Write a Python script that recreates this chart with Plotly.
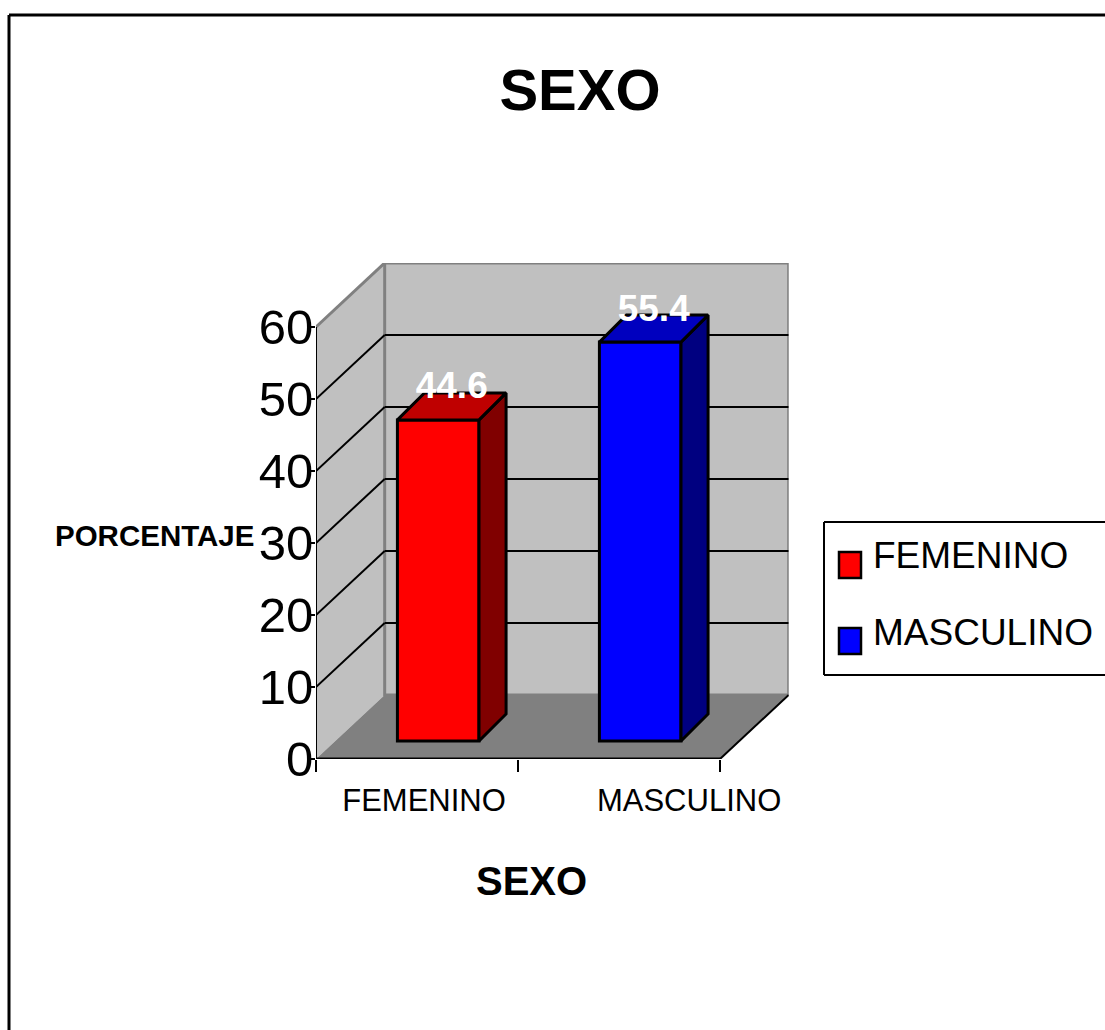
import plotly.graph_objects as go

W = 1105
H = 1030

categorias = ["FEMENINO", "MASCULINO"]
porcentajes = [44.6, 55.4]
y_ticks = [0, 10, 20, 30, 40, 50, 60]
colores_frente = ["#ff0000", "#0000ff"]
colores_lado = ["#800000", "#000080"]
colores_tope = ["#bf0000", "#0000bf"]

# profundidad del "3D", en unidades de los ejes
dx = 0.34
dy = 8.9
ymax = 60
n = len(categorias)

# las barras arrancan un poco adentro del piso
bar_ancho = 0.404
bar_dx = 0.134
bar_dy = 3.75
bar_x0 = 0.105
bar_base = 2.5


def px_x(x):
    return x / W


def px_y(y):
    return 1 - y / H


def poligono(puntos):
    return "M " + " L ".join(f"{x},{y}" for x, y in puntos) + " Z"


def pared(puntos, relleno, borde=None):
    return dict(type="path", xref="x", yref="y", layer="below", path=poligono(puntos),
                fillcolor=relleno, line=dict(color=borde or relleno, width=3 if borde else 0))


def linea(x0, y0, x1, y1, color="black", ancho=2, layer="below"):
    return dict(type="line", xref="x", yref="y", x0=x0, y0=y0, x1=x1, y1=y1, layer=layer,
                line=dict(color=color, width=ancho))


def linea_px(x0, y0, x1, y1, ancho=3):
    return dict(type="line", xref="paper", yref="paper", x0=px_x(x0), y0=px_y(y0), x1=px_x(x1), y1=px_y(y1),
                line=dict(color="black", width=ancho))


def cuadro_px(x0, y0, x1, y1, relleno, ancho):
    return dict(type="rect", xref="paper", yref="paper", x0=px_x(x0), y0=px_y(y0), x1=px_x(x1), y1=px_y(y1),
                fillcolor=relleno, line=dict(color="black", width=ancho))


fig = go.Figure()

# paredes y piso
shapes = [
    pared([(0, 0), (dx, dy), (dx, ymax + dy), (0, ymax)], "#c0c0c0"),
    pared([(dx, dy), (n + dx, dy), (n + dx, ymax + dy), (dx, ymax + dy)], "#c0c0c0", "#808080"),
    pared([(0, 0), (n, 0), (n + dx, dy), (dx, dy)], "#808080"),
    linea(0, ymax, dx, ymax + dy, color="#808080", ancho=3),
]

# grilla en la pared lateral y en la del fondo
for v in y_ticks[1:-1]:
    shapes.append(linea(0, v, dx, v + dy))
    shapes.append(linea(dx, v + dy, n + dx, v + dy))

# ejes
shapes.append(linea(0, 0, 0, ymax, layer="above"))
shapes.append(linea(0, 0, n, 0, ancho=3, layer="above"))
shapes.append(linea(n, 0, n + dx, dy, layer="above"))

# barras
for i, cat in enumerate(categorias):
    x = i + 0.5 + bar_x0
    val = porcentajes[i]
    fig.add_trace(go.Bar(x=[x], y=[val], base=[bar_base], width=[bar_ancho], name=cat,
                         marker=dict(color=colores_frente[i], line=dict(color="black", width=3))))
    x1 = x + bar_ancho / 2
    x0 = x - bar_ancho / 2
    y0 = bar_base
    y1 = bar_base + val
    fig.add_trace(go.Scatter(x=[x1, x1 + bar_dx, x1 + bar_dx, x1, x1],
                             y=[y0, y0 + bar_dy, y1 + bar_dy, y1, y0],
                             mode="lines", fill="toself", fillcolor=colores_lado[i],
                             line=dict(color="black", width=3), hoverinfo="skip"))
    fig.add_trace(go.Scatter(x=[x0, x1, x1 + bar_dx, x0 + bar_dx, x0],
                             y=[y1, y1, y1 + bar_dy, y1 + bar_dy, y1],
                             mode="lines", fill="toself", fillcolor=colores_tope[i],
                             line=dict(color="black", width=3), hoverinfo="skip"))

# etiquetas de datos, encima de todo
for i, val in enumerate(porcentajes):
    fig.add_trace(go.Scatter(x=[i + 0.5 + bar_x0 + bar_dx / 2],
                             y=[bar_base + val + bar_dy / 2 + 2.4],
                             mode="text", text=[str(val)], textposition="middle center",
                             textfont=dict(family="Liberation Sans", size=37, color="white", weight="bold"),
                             hoverinfo="skip"))

# marco y leyenda
shapes += [
    linea_px(9, 15, 9, H),
    linea_px(9, 15, W, 15),
    linea_px(824, 522, W, 522, ancho=2),
    linea_px(824, 675, W, 675, ancho=2),
    linea_px(824, 522, 824, 675, ancho=2),
    cuadro_px(839, 552, 861, 578, colores_frente[0], 2.5),
    cuadro_px(839, 628, 861, 654, colores_frente[1], 2.5),
]

annotations = [
    dict(text="<b>PORCENTAJE</b>", xref="paper", yref="paper", x=px_x(154), y=px_y(535), showarrow=False,
         xanchor="center", yanchor="middle", font=dict(size=29.5)),
    dict(text="<b>SEXO</b>", xref="paper", yref="paper", x=px_x(531), y=px_y(881), showarrow=False,
         xanchor="center", yanchor="middle", font=dict(size=40)),
    dict(text=categorias[0], xref="paper", yref="paper", x=px_x(871), y=px_y(555), showarrow=False,
         xanchor="left", yanchor="middle", font=dict(size=37)),
    dict(text=categorias[1], xref="paper", yref="paper", x=px_x(871), y=px_y(632), showarrow=False,
         xanchor="left", yanchor="middle", font=dict(size=37)),
]

fig.update_layout(
    width=W,
    height=H,
    margin=dict(l=0, r=0, t=0, b=0),
    paper_bgcolor="white",
    plot_bgcolor="rgba(0,0,0,0)",
    font=dict(family="Liberation Sans", color="black"),
    title=dict(text="<b>SEXO</b>", x=px_x(580), y=px_y(90), xanchor="center", yanchor="middle",
               xref="container", yref="container", font=dict(size=58, color="black")),
    barmode="overlay",
    showlegend=False,
    shapes=shapes,
    annotations=annotations,
    xaxis=dict(domain=[px_x(316), px_x(316 + 202 * (n + dx))], range=[0, n + dx], showgrid=False, zeroline=False,
               showline=False, automargin=False, tickmode="array", tickvals=[0.535, 1.847], ticktext=categorias,
               ticks="", tickfont=dict(size=31), ticklabelstandoff=20,
               minor=dict(tickmode="array", tickvals=[0, 1, 2], ticks="outside", ticklen=12, tickwidth=2,
                          tickcolor="black", showgrid=False)),
    yaxis=dict(domain=[px_y(759), px_y(759 - 7.2 * (ymax + dy))], range=[0, ymax + dy], showgrid=False, zeroline=False,
               showline=False, automargin=False, tickmode="array", tickvals=y_ticks, ticks="outside", ticklen=6,
               tickwidth=2, tickcolor="black", tickfont=dict(size=49), ticklabelstandoff=-14),
)

# sin el margen por defecto del body
fig.write_html("out.html", config={"displayModeBar": False},
               post_script="document.body.style.margin='0';document.documentElement.style.overflow='hidden';")
